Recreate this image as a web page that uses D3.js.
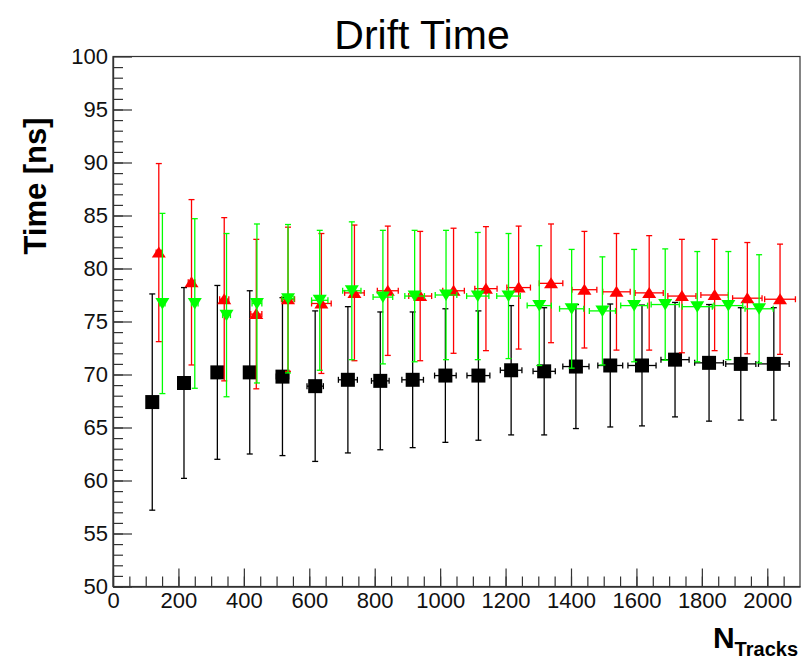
<!DOCTYPE html>
<html>
<head>
<meta charset="utf-8">
<script src="https://cdn.jsdelivr.net/npm/d3@7"></script>
<style>
  body { margin: 0; background: #fff; }
  svg { display: block; font-family: "Liberation Sans", Arial, Helvetica, sans-serif; }
</style>
</head>
<body>
<svg id="chart" width="801" height="662"></svg>
<script>
// values (N tracks, drift time in ns)
const blackX = [120, 217, 319, 418, 518, 618, 718, 817, 916, 1016, 1117, 1217, 1318, 1415, 1520, 1617, 1718, 1822, 1919, 2020];
const blackY = [67.4, 69.2, 70.2, 70.2, 69.8, 68.9, 69.5, 69.4, 69.5, 69.9, 69.9, 70.4, 70.3, 70.75, 70.85, 70.85, 71.4, 71.1, 71.0, 71.0];
const blackEy = [10.2, 9.0, 8.2, 7.7, 7.45, 7.1, 6.9, 6.5, 6.4, 6.3, 6.1, 6.1, 6.0, 5.85, 5.8, 5.7, 5.4, 5.5, 5.3, 5.3];
const blackEx = [12, 14, 16, 18, 19, 25, 29, 27, 33, 33, 35, 33, 34, 40, 38, 43, 43, 44, 46, 47];

const redX = [140, 240, 340, 438, 535, 637, 738, 840, 939, 1041, 1140, 1240, 1339, 1441, 1539, 1639, 1739, 1839, 1939, 2039];
const redY = [81.5, 78.7, 77.1, 75.7, 77.1, 76.7, 77.7, 77.9, 77.4, 77.9, 78.1, 78.2, 78.6, 78.0, 77.8, 77.7, 77.4, 77.5, 77.2, 77.1];
const redEy = [8.4, 7.8, 7.7, 7.05, 6.8, 6.6, 6.4, 6.1, 6.1, 5.9, 5.85, 5.8, 5.6, 5.5, 5.5, 5.4, 5.35, 5.25, 5.25, 5.2];
const redEx = [8, 10, 14, 17, 20, 30, 30, 32, 35, 33, 34, 36, 36, 38, 42, 43, 43, 42, 45, 47];

const greenX = [151, 250, 347, 440, 535, 632, 730, 825, 922, 1018, 1115, 1209, 1303, 1402, 1496, 1593, 1688, 1786, 1881, 1975];
const greenY = [76.7, 76.7, 75.6, 76.7, 77.15, 77.0, 77.9, 77.3, 77.4, 77.5, 77.4, 77.4, 76.5, 76.2, 76.0, 76.5, 76.6, 76.4, 76.5, 76.2];
const greenEy = [8.5, 8.0, 7.7, 7.5, 7.0, 6.6, 6.5, 6.3, 6.2, 6.1, 6.0, 5.9, 5.65, 5.6, 5.1, 5.3, 5.25, 5.2, 5.1, 5.1];
const greenEx = [8, 10, 12, 15, 18, 25, 28, 30, 30, 33, 34, 36, 37, 37, 40, 41, 43, 46, 44, 43];

const xTicks = [0, 200, 400, 600, 800, 1000, 1200, 1400, 1600, 1800, 2000];
const yTicks = [50, 55, 60, 65, 70, 75, 80, 85, 90, 95, 100];

let svg = d3.select("#chart");

let dims = {
  left: 113,
  right: 800,
  top: 56.5,
  bottom: 586.5,
};

let xScale = d3.scaleLinear().domain([0, 2100]).range([dims.left, dims.right]);
let yScale = d3.scaleLinear().domain([50, 100]).range([dims.bottom, dims.top]);

// frame
svg.append("rect")
  .attr("x", dims.left)
  .attr("y", dims.top)
  .attr("width", dims.right - dims.left)
  .attr("height", dims.bottom - dims.top)
  .attr("fill", "none")
  .attr("stroke", "#333")
  .attr("stroke-width", 1.2);

// minor ticks first, then the major ones with labels (ROOT style: ticks inside)
svg.append("g")
  .attr("transform", "translate(" + dims.left + ",0)")
  .call(d3.axisLeft(yScale).tickValues(d3.range(50, 100, 1)).tickSize(-10).tickSizeOuter(0).tickFormat(""));
svg.append("g")
  .attr("class", "yaxis")
  .attr("transform", "translate(" + dims.left + ",0)")
  .call(d3.axisLeft(yScale).tickValues(yTicks).tickSize(-19).tickSizeOuter(0).tickPadding(5).tickFormat(d3.format("d")));

svg.append("g")
  .attr("transform", "translate(0," + dims.bottom + ")")
  .call(d3.axisBottom(xScale).tickValues(d3.range(0, 2100, 50)).tickSize(-10).tickSizeOuter(0).tickFormat(""));
svg.append("g")
  .attr("class", "xaxis")
  .attr("transform", "translate(0," + dims.bottom + ")")
  .call(d3.axisBottom(xScale).tickValues(xTicks).tickSize(-18).tickSizeOuter(0).tickPadding(6).tickFormat(d3.format("d")));

svg.selectAll(".tick line").attr("stroke", "#333").attr("stroke-width", 1.2);
svg.selectAll(".domain").attr("stroke", "#333").attr("stroke-width", 1.2);
svg.selectAll(".tick text")
  .attr("font-size", 22)
  .attr("font-family", "Liberation Sans, Arial, sans-serif")
  .attr("fill", "#111");

// titles
svg.append("text")
  .text("Drift Time")
  .attr("x", 422)
  .attr("y", 49)
  .attr("text-anchor", "middle")
  .attr("font-size", 41)
  .attr("fill", "#000");

svg.append("text")
  .text("Time [ns]")
  .attr("transform", "translate(46,186) rotate(-90)")
  .attr("text-anchor", "middle")
  .attr("font-size", 31)
  .attr("font-weight", "bold")
  .attr("fill", "#000");

let xt = svg.append("text")
  .attr("x", 798)
  .attr("y", 648)
  .attr("text-anchor", "end")
  .attr("font-weight", "bold")
  .attr("fill", "#000");
xt.append("tspan").text("N").attr("font-size", 30);
xt.append("tspan").text("Tracks").attr("font-size", 20).attr("dy", 8);

// marker shapes
const square = d3.symbol().type(d3.symbolSquare).size(196)();
const triUp = "M0,-6L7,5L-7,5Z";
const triDown = "M0,6L7,-5.5L-7,-5.5Z";

function drawSeries(xs, ys, exs, eys, color, shape) {
  let data = xs.map((x, i) => ({ x: x, y: ys[i], ex: exs[i], ey: eys[i] }));
  let g = svg.append("g");
  let cap = 3;

  let bars = g.selectAll("g.err").data(data).enter().append("g").attr("class", "err");
  bars.append("line") // vertical error
    .attr("x1", (d) => xScale(d.x)).attr("x2", (d) => xScale(d.x))
    .attr("y1", (d) => yScale(d.y - d.ey)).attr("y2", (d) => yScale(d.y + d.ey));
  bars.append("line") // horizontal error
    .attr("x1", (d) => xScale(d.x - d.ex)).attr("x2", (d) => xScale(d.x + d.ex))
    .attr("y1", (d) => yScale(d.y)).attr("y2", (d) => yScale(d.y));
  bars.append("line")
    .attr("x1", (d) => xScale(d.x) - cap).attr("x2", (d) => xScale(d.x) + cap)
    .attr("y1", (d) => yScale(d.y + d.ey)).attr("y2", (d) => yScale(d.y + d.ey));
  bars.append("line")
    .attr("x1", (d) => xScale(d.x) - cap).attr("x2", (d) => xScale(d.x) + cap)
    .attr("y1", (d) => yScale(d.y - d.ey)).attr("y2", (d) => yScale(d.y - d.ey));
  bars.append("line")
    .attr("x1", (d) => xScale(d.x - d.ex)).attr("x2", (d) => xScale(d.x - d.ex))
    .attr("y1", (d) => yScale(d.y) - cap).attr("y2", (d) => yScale(d.y) + cap);
  bars.append("line")
    .attr("x1", (d) => xScale(d.x + d.ex)).attr("x2", (d) => xScale(d.x + d.ex))
    .attr("y1", (d) => yScale(d.y) - cap).attr("y2", (d) => yScale(d.y) + cap);
  bars.selectAll("line").attr("stroke", color).attr("stroke-width", 1.3);

  g.selectAll("path.marker").data(data).enter().append("path")
    .attr("class", "marker")
    .attr("d", shape)
    .attr("transform", (d) => "translate(" + xScale(d.x) + "," + yScale(d.y) + ")")
    .attr("fill", color);
}

drawSeries(blackX, blackY, blackEx, blackEy, "#000000", square);
drawSeries(redX, redY, redEx, redEy, "#ff0000", triUp);
drawSeries(greenX, greenY, greenEx, greenEy, "#00ff00", triDown);
</script>
</body>
</html>
